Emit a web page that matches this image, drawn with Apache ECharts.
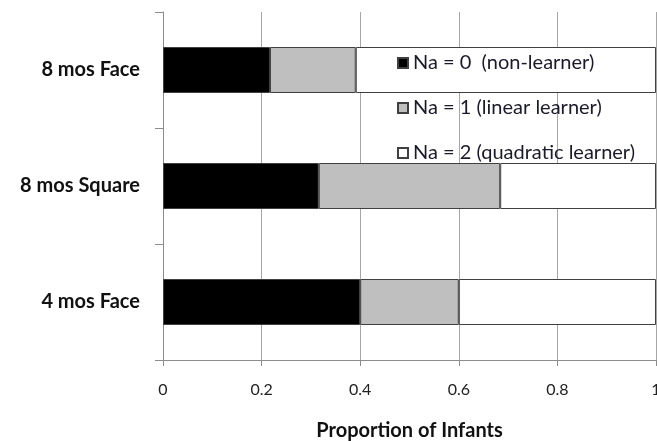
<!DOCTYPE html>
<html>
<head>
<meta charset="utf-8">
<script src="https://cdn.jsdelivr.net/npm/echarts@6/dist/echarts.min.js"></script>
<style>
  html, body { margin: 0; padding: 0; background: #fff; }
  #main { width: 657px; height: 441px; }
</style>
</head>
<body>
<div id="main"></div>
<script>
// groups, bottom to top as drawn
var groups = ['4 mos Face', '8 mos Square', '8 mos Face'];
var na0 = [0.40, 0.316, 0.217];
var na1 = [0.20, 0.368, 0.174];
var na2 = [0.40, 0.316, 0.609];
var seriesNames = ['Na = 0  (non-learner)', 'Na = 1 (linear learner)', 'Na = 2 (quadratic learner)'];
var xTicks = [0, 0.2, 0.4, 0.6, 0.8, 1];

var chart = echarts.init(document.getElementById('main'));
var font = 'Lato, "Open Sans", sans-serif';

function bar(name, data, fill) {
  return {
    name: name,
    type: 'bar',
    stack: 'total',
    barWidth: 46,
    data: data,
    itemStyle: { color: fill, borderColor: '#404040', borderWidth: 1 }
  };
}

var option = {
  animation: false,
  textStyle: { fontFamily: font },
  legend: {
    orient: 'vertical',
    left: 392,
    top: 48,
    itemGap: 25,
    itemWidth: 10,
    itemHeight: 10,
    icon: 'rect',
    textStyle: { fontFamily: font, fontSize: 20, color: '#1a1a2a' },
    data: seriesNames
  },
  grid: { left: 163, right: 1, top: 12, bottom: 81, outerBoundsMode: 'none' },
  xAxis: {
    type: 'value',
    min: 0,
    max: 1,
    interval: 0.2,
    axisLine: { show: true, lineStyle: { color: '#8c8c8c' } },
    axisTick: { show: true, length: 6, lineStyle: { color: '#8c8c8c' } },
    splitLine: { show: true, lineStyle: { color: '#a6a6a6' } },
    axisLabel: {
      fontFamily: font, fontSize: 16, color: '#222', margin: 22,
      formatter: function (v) { return xTicks.indexOf(+v.toFixed(1)) >= 0 ? String(+v.toFixed(1)) : ''; }
    },
    name: 'Proportion of Infants',
    nameLocation: 'middle',
    nameGap: 61,
    nameTextStyle: { fontFamily: font, fontSize: 20, fontWeight: 'bold', color: '#111' }
  },
  yAxis: {
    type: 'category',
    data: groups,
    axisLine: { show: true, lineStyle: { color: '#8c8c8c' } },
    axisTick: { show: true, length: 8, lineStyle: { color: '#8c8c8c' } },
    axisLabel: { fontFamily: font, fontSize: 20, fontWeight: 'bold', color: '#111', margin: 23 }
  },
  series: [
    bar(seriesNames[0], na0, '#000000'),
    bar(seriesNames[1], na1, '#bfbfbf'),
    bar(seriesNames[2], na2, '#ffffff')
  ]
};

chart.setOption(option);
window.addEventListener('resize', function () { chart.resize(); });
</script>
</body>
</html>
